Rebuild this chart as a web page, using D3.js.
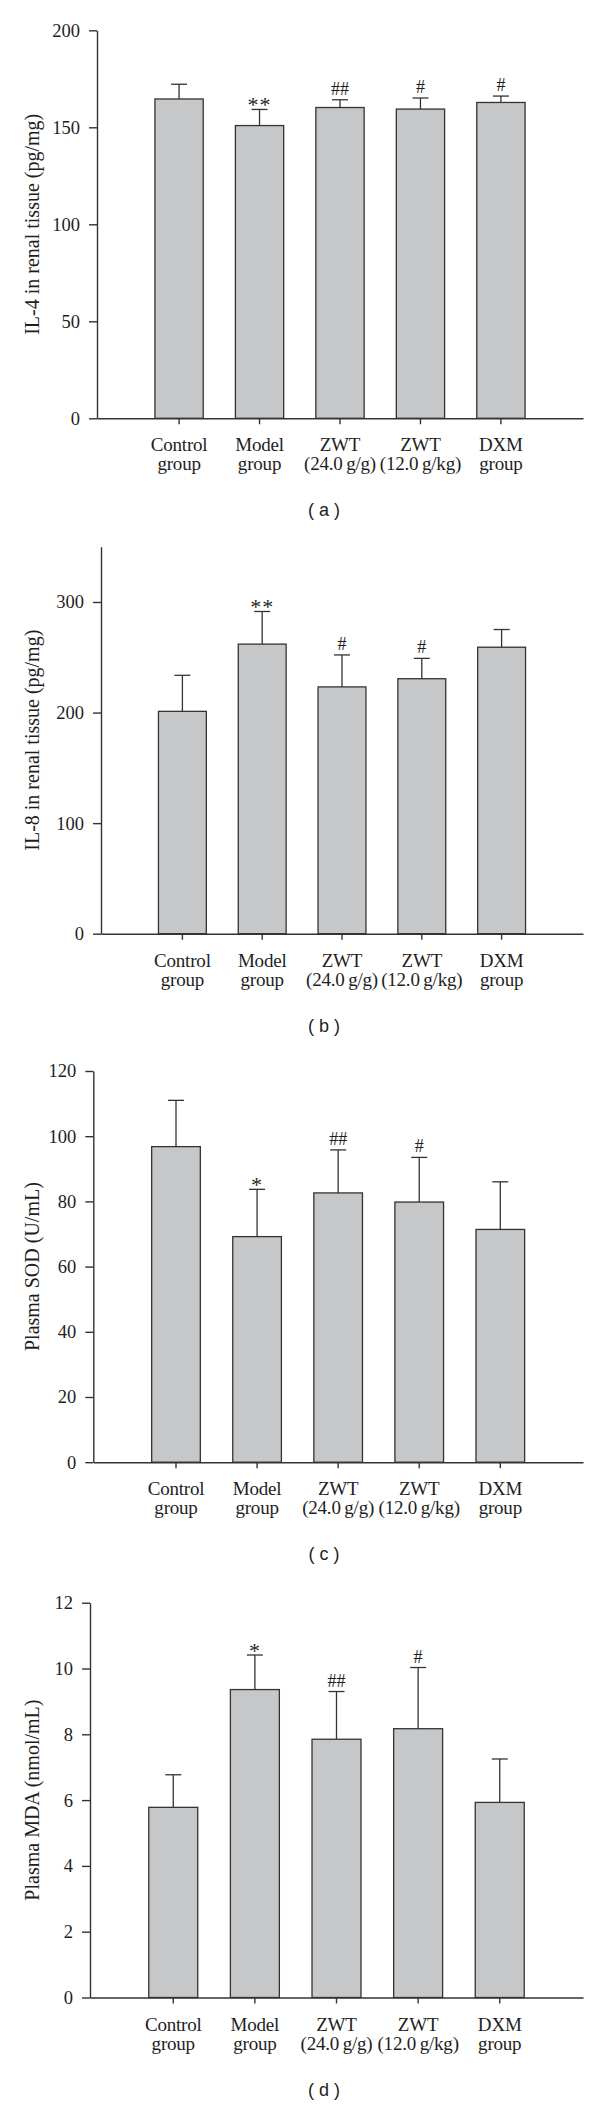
<!DOCTYPE html>
<html>
<head>
<meta charset="utf-8">
<script src="https://cdn.jsdelivr.net/npm/d3@7"></script>
<style>
  html, body { margin: 0; padding: 0; background: #fff; }
  svg { display: block; }
</style>
</head>
<body>
<svg id="chart" width="600" height="2105"></svg>
<script>
// ---------------- data ----------------
const categories = ["Control", "Model", "ZWT24", "ZWT12", "DXM"];
const catLine1 = ["Control", "Model", "ZWT", "ZWT", "DXM"];
const catLine2 = ["group", "group", "(24.0\u2009g/g)", "(12.0\u2009g/kg)", "group"];

// (a) IL-4 in renal tissue
const il4Mean = [164.6, 150.9, 160.2, 159.4, 162.8];
const il4Sd   = [7.6, 8.3, 4.0, 5.7, 3.3];
const il4Sig  = ["", "**", "##", "#", "#"];
const il4Ticks = [0, 50, 100, 150, 200];

// (b) IL-8 in renal tissue
const il8Mean = [201.1, 261.9, 223.2, 230.6, 259.1];
const il8Sd   = [32.6, 29.5, 28.9, 18.4, 16.0];
const il8Sig  = ["", "**", "#", "#", ""];
const il8Ticks = [0, 100, 200, 300];

// (c) Plasma SOD
const sodMean = [96.8, 69.2, 82.6, 79.8, 71.4];
const sodSd   = [14.2, 14.5, 13.2, 13.7, 14.6];
const sodSig  = ["", "*", "##", "#", ""];
const sodTicks = [0, 20, 40, 60, 80, 100, 120];

// (d) Plasma MDA
const mdaMean = [5.78, 9.36, 7.85, 8.17, 5.93];
const mdaSd   = [0.99, 1.05, 1.45, 1.86, 1.32];
const mdaSig  = ["", "*", "##", "#", ""];
const mdaTicks = [0, 2, 4, 6, 8, 10, 12];

// ---------------- layout ----------------
const panels = [
  { mean: il4Mean, sd: il4Sd, sig: il4Sig, ticks: il4Ticks, max: 200,
    label: "IL-4 in renal tissue (pg/mg)", tag: "( a )", top: 30.3, bottom: 418.3, axisX: 97 },
  { mean: il8Mean, sd: il8Sd, sig: il8Sig, ticks: il8Ticks, max: 350,
    label: "IL-8 in renal tissue (pg/mg)", tag: "( b )", top: 546.7, bottom: 933.7, axisX: 101 },
  { mean: sodMean, sd: sodSd, sig: sodSig, ticks: sodTicks, max: 120,
    label: "Plasma SOD (U/mL)", tag: "( c )", top: 1071, bottom: 1462.2, axisX: 93.3 },
  { mean: mdaMean, sd: mdaSd, sig: mdaSig, ticks: mdaTicks, max: 12,
    label: "Plasma MDA (nmol/mL)", tag: "( d )", top: 1602.7, bottom: 1997.5, axisX: 90 }
];

const svg = d3.select("#chart");
const serif = "'Liberation Serif', 'Times New Roman', serif";
const sans = "'Liberation Sans', Arial, sans-serif";
const ink = "#1e1e1e";
const lineCol = "#333";
const rightEdge = 583;

panels.forEach(p => {
  const g = svg.append("g");
  const y = d3.scaleLinear().domain([0, p.max]).range([p.bottom, p.top]);
  const x = d3.scaleBand().domain(categories).range([p.axisX, rightEdge])
    .paddingInner(0.4).paddingOuter(0.72);

  // bars
  g.selectAll("rect.bar").data(categories).join("rect")
    .attr("class", "bar")
    .attr("x", d => x(d))
    .attr("width", x.bandwidth())
    .attr("y", (d, i) => y(p.mean[i]))
    .attr("height", (d, i) => y(0) - y(p.mean[i]))
    .attr("fill", "#c6c7c9")
    .attr("stroke", lineCol)
    .attr("stroke-width", 1.3);

  // error bars (upper only)
  const cx = d => x(d) + x.bandwidth() / 2;
  g.selectAll("line.err").data(categories).join("line")
    .attr("class", "err")
    .attr("x1", cx).attr("x2", cx)
    .attr("y1", (d, i) => y(p.mean[i]))
    .attr("y2", (d, i) => y(p.mean[i] + p.sd[i]))
    .attr("stroke", lineCol).attr("stroke-width", 1.3);
  g.selectAll("line.cap").data(categories).join("line")
    .attr("class", "cap")
    .attr("x1", d => cx(d) - 8).attr("x2", d => cx(d) + 8)
    .attr("y1", (d, i) => y(p.mean[i] + p.sd[i]))
    .attr("y2", (d, i) => y(p.mean[i] + p.sd[i]))
    .attr("stroke", lineCol).attr("stroke-width", 1.3);

  // significance markers
  const isStar = i => p.sig[i].indexOf("*") >= 0;
  g.selectAll("text.sig").data(categories).join("text")
    .attr("class", "sig")
    .attr("x", cx)
    .attr("y", (d, i) => y(p.mean[i] + p.sd[i]) + (isStar(i) ? 2.5 : -5))
    .attr("text-anchor", "middle")
    .attr("font-family", serif)
    .attr("font-size", (d, i) => isStar(i) ? 22 : 18)
    .attr("letter-spacing", (d, i) => isStar(i) ? 1 : 0)
    .attr("fill", ink)
    .text((d, i) => p.sig[i]);

  // y axis
  const yAxis = d3.axisLeft(y).tickValues(p.ticks).tickSize(8).tickSizeOuter(0).tickPadding(9)
    .tickFormat(d3.format("d"));
  const ya = g.append("g").attr("transform", `translate(${p.axisX},0)`).call(yAxis);
  ya.select(".domain").attr("stroke", lineCol).attr("stroke-width", 1.4);
  ya.selectAll(".tick line").attr("stroke", lineCol).attr("stroke-width", 1.4);
  ya.selectAll(".tick text").attr("font-family", serif).attr("font-size", 18.5).attr("fill", ink);

  // x axis
  const xAxis = d3.axisBottom(x).tickSize(6).tickSizeOuter(0).tickFormat("");
  const xa = g.append("g").attr("transform", `translate(0,${p.bottom})`).call(xAxis);
  xa.select(".domain").attr("stroke", lineCol).attr("stroke-width", 1.4);
  xa.selectAll(".tick line").attr("stroke", lineCol).attr("stroke-width", 1.4);

  // category labels
  const lab = g.selectAll("text.cat").data(categories).join("text")
    .attr("class", "cat")
    .attr("text-anchor", "middle")
    .attr("font-family", serif)
    .attr("font-size", 19)
    .attr("letter-spacing", -0.2)
    .attr("fill", ink);
  lab.append("tspan").attr("x", cx).attr("y", p.bottom + 33).text((d, i) => catLine1[i]);
  lab.append("tspan").attr("x", cx).attr("y", p.bottom + 52).text((d, i) => catLine2[i]);

  // y-axis title
  g.append("text")
    .attr("transform", `translate(38.5,${(p.top + p.bottom) / 2}) rotate(-90)`)
    .attr("text-anchor", "middle")
    .attr("font-family", serif)
    .attr("font-size", 20)
    .attr("fill", ink)
    .text(p.label);

  // panel tag
  g.append("text")
    .attr("x", 324)
    .attr("y", p.bottom + 92)
    .attr("dominant-baseline", "central")
    .attr("text-anchor", "middle")
    .attr("font-family", sans)
    .attr("font-size", 18)
    .attr("fill", ink)
    .style("white-space", "pre")
    .text(p.tag);
});
</script>
</body>
</html>
